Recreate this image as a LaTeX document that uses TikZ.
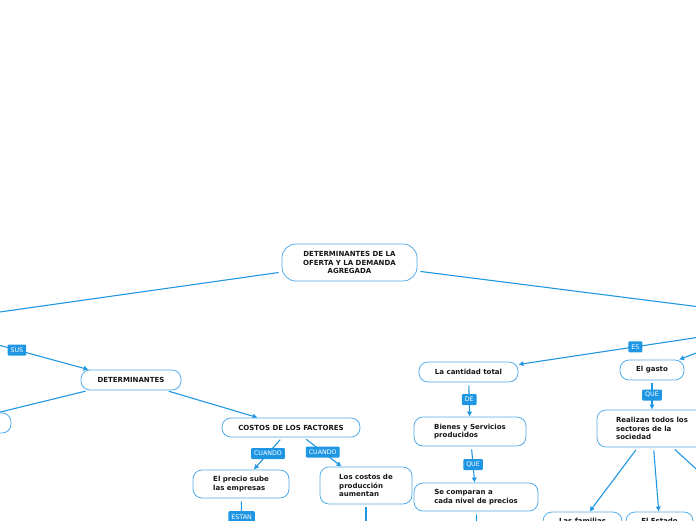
\documentclass[tikz,border=0pt]{standalone}
\usepackage{fontspec}
\usepackage{tikz}
\usetikzlibrary{arrows.meta,backgrounds}
\newfontfamily\mapfont{DejaVu Sans}
\definecolor{lineblue}{RGB}{33,150,226}
\definecolor{boxblue}{RGB}{84,172,234}
\definecolor{tagblue}{RGB}{30,150,228}
\definecolor{inkgray}{RGB}{22,22,22}
\tikzstyle{mapbox}=[rectangle,rounded corners=9pt,draw=boxblue,line width=0.8pt,fill=white,text=inkgray,inner sep=0pt,font=\mapfont\bfseries\fontsize{7}{8.6}\selectfont,align=left]
\tikzstyle{rootbox}=[mapbox,rounded corners=14pt,align=center]
\tikzstyle{stubbox}=[mapbox]
\tikzstyle{tagbox}=[rectangle,rounded corners=1pt,fill=tagblue,text=white,inner xsep=3pt,inner ysep=0pt,minimum height=11pt,font=\mapfont\fontsize{6.3}{7}\selectfont]
\tikzstyle{plainedge}=[-,draw=lineblue,line width=1.1pt,shorten <=3pt]
\tikzstyle{inarrow}=[-{Latex[length=5pt,width=5.5pt]},draw=lineblue,line width=1.1pt,shorten <=3pt]
\pgfdeclarelayer{edgelayer}
\pgfdeclarelayer{nodelayer}
\pgfsetlayers{edgelayer,nodelayer,main}
\begin{document}
\begin{tikzpicture}[x=1pt,y=-1pt]
	\useasboundingbox (0,0) rectangle (696,520);
	\begin{pgfonlayer}{nodelayer}
		\node [style=rootbox,minimum width=135,minimum height=37] (root) at (349.5,262.5) {DETERMINANTES DE LA\\OFERTA Y LA DEMANDA\\AGREGADA};

		\node [style=mapbox,minimum width=100,minimum height=20,align=center] (det) at (131,380) {DETERMINANTES};
		\node [style=stubbox,minimum width=102,minimum height=20] (nleft) at (-40,423) {};
		\node [style=mapbox,minimum width=138,minimum height=19,align=center] (costos) at (291,427.5) {COSTOS DE LOS FACTORES};
		\node [style=mapbox,minimum width=96,minimum height=28] (precio) at (241,484) {El precio sube\\las empresas};
		\node [style=mapbox,minimum width=92,minimum height=37] (aumentan) at (366,485.5) {Los costos de\\producción\\aumentan};

		\node [style=mapbox,minimum width=99,minimum height=20,align=center] (cantidad) at (468.5,372) {La cantidad total};
		\node [style=mapbox,minimum width=112,minimum height=29] (bienes) at (470,431.5) {Bienes y Servicios\\producidos};
		\node [style=mapbox,minimum width=124,minimum height=28] (comparan) at (476,497) {Se comparan a\\cada nivel de precios};

		\node [style=mapbox,minimum width=64,minimum height=20,align=center] (gasto) at (652,370) {El gasto};
		\node [style=mapbox,minimum width=110,minimum height=37] (realizan) at (652,428.5) {Realizan todos los\\sectores de la\\sociedad};
		\node [style=mapbox,minimum width=79,minimum height=18,align=center] (familias) at (582.5,521) {Las familias};
		\node [style=mapbox,minimum width=67,minimum height=18,align=center] (estado) at (659.5,521) {El Estado};

		\coordinate (westroot) at (-20,314.8);
		\coordinate (eastroot) at (720,309.5);
		\coordinate (westsus) at (-20,340);
		\coordinate (westdet) at (-20,417);
		\coordinate (easttotal) at (720,334);
		\coordinate (eastgasto) at (730,340);
		\coordinate (eastreal) at (730,500);
		\coordinate (downprecio) at (242,540);
		\coordinate (downaument) at (366,540);
		\coordinate (downcompar) at (477,540);
	\end{pgfonlayer}
	\begin{pgfonlayer}{edgelayer}
		\draw [style=plainedge] (root) to (westroot);
		\draw [style=plainedge] (root) to (eastroot);
		\draw [style=inarrow] (westsus) to node[style=tagbox,pos=0.34] {SUS} ([xshift=8]det.north west);
		\draw [style=plainedge] (det) to (westdet);
		\draw [style=inarrow] (det) to (costos);
		\draw [style=inarrow] (costos) to node[style=tagbox] {CUANDO} (precio);
		\draw [style=inarrow] (costos) to node[style=tagbox] {CUANDO} (aumentan);
		\draw [style=plainedge] (precio) to node[style=tagbox,pos=0.44] {ESTAN} (downprecio);
		\draw [style=plainedge] (aumentan) to (downaument);

		\draw [style=inarrow,shorten <=0pt] (easttotal) to node[style=tagbox,pos=0.42] {ES} (cantidad);
		\draw [style=inarrow,shorten <=0pt] (eastgasto) to (gasto);
		\draw [style=inarrow] (cantidad) to node[style=tagbox] {DE} (bienes);
		\draw [style=inarrow] (bienes) to node[style=tagbox] {QUE} (comparan);
		\draw [style=plainedge] (comparan) to (downcompar);
		\draw [style=inarrow] (gasto) to node[style=tagbox] {QUE} (realizan);
		\draw [style=inarrow] (realizan) to (familias);
		\draw [style=inarrow] (realizan) to (estado);
		\draw [style=plainedge] (realizan) to (eastreal);
	\end{pgfonlayer}
\end{tikzpicture}
\end{document}
